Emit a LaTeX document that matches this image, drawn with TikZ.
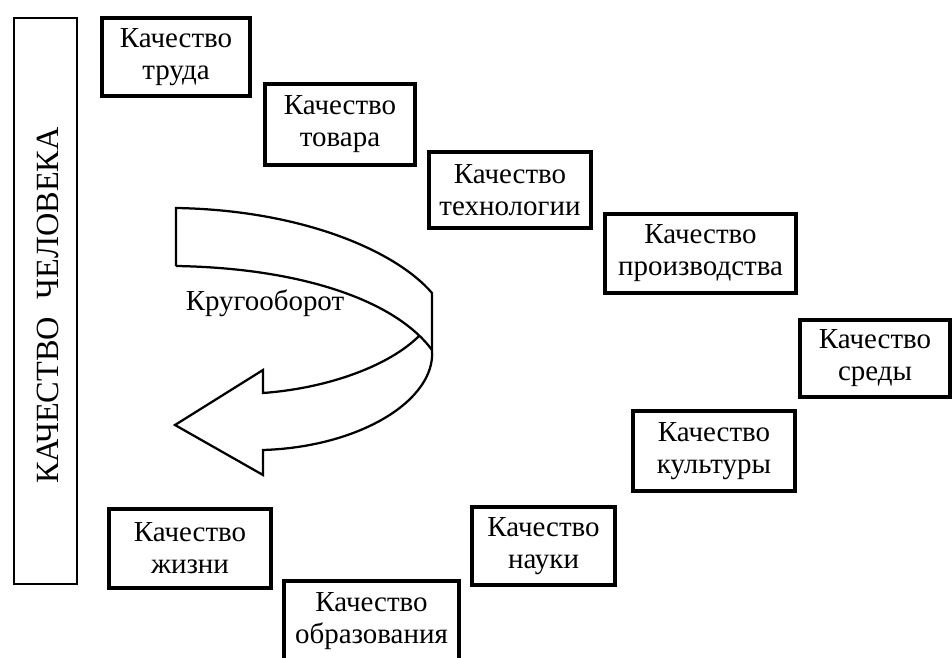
\documentclass[tikz,border=0pt]{standalone}
\usepackage{fontspec}
\setmainfont{Liberation Serif}
\usetikzlibrary{positioning}

\tikzset{
    qbox/.style 2 args={draw=black, line width=3pt, inner sep=0pt, align=center,
        minimum width=#1*0.25mm, minimum height=#2*0.25mm,
        font=\fontsize{20.6}{22.8}\selectfont},
    thin/.style={line width=2.4pt},
    sidebox/.style={draw=black, line width=2.1pt, inner sep=0pt,
        minimum width=63*0.25mm, minimum height=566*0.25mm},
    ribbon/.style={black, line width=1.6pt, line join=miter},
}

\begin{document}
\begin{tikzpicture}[x=0.25mm, y=-0.25mm]

    \clip (0,0) rectangle (952,657);

        \node[sidebox] (chel) at (45.5,301) {};
        \node[rotate=90, anchor=base, font=\fontsize{23}{26}\selectfont] (cheltext) at (58.5,305.5)
            {КАЧЕСТВО\hspace{0.55em}ЧЕЛОВЕКА};

        \node[qbox={148}{78}] (trud) at (176,57) {Качество\\труда};
        \node[qbox={150}{81}] (tovar) at (340,124.5) {Качество\\товара};
        \node[qbox={162}{76}] (tech) at (510,190) {Качество\\технологии};
        \node[qbox={191}{79}] (proizv) at (700.5,253.5) {Качество\\производства};
        \node[qbox={150}{77}, thin] (sreda) at (875,358.5) {Качество\\среды};
        \node[qbox={162}{80}] (kult) at (714,451) {Качество\\культуры};
        \node[qbox={143}{78}, thin] (nauka) at (543.5,546) {Качество\\науки};
        \node[qbox={175}{80}] (obraz) at (371.5,621) {Качество\\образования};
        \node[qbox={162}{79}] (zhizn) at (190,548.5) {Качество\\жизни};

        % curved arrow
        \draw[ribbon] (176,266) -- (176,208) .. controls (300,210) and (395,250) .. (432,293)
            -- (432,350) .. controls (436,400) and (360,447) .. (263,450)
            -- (263,475) -- (175,425) -- (263,370) -- (263,393)
            .. controls (330,388) and (390,365) .. (419,336);
        \draw[ribbon] (176,266) .. controls (300,268) and (395,300) .. (432,350);

        \node[font=\fontsize{20.6}{23.5}\selectfont] (krug) at (265,303) {Кругооборот};

\end{tikzpicture}
\end{document}
